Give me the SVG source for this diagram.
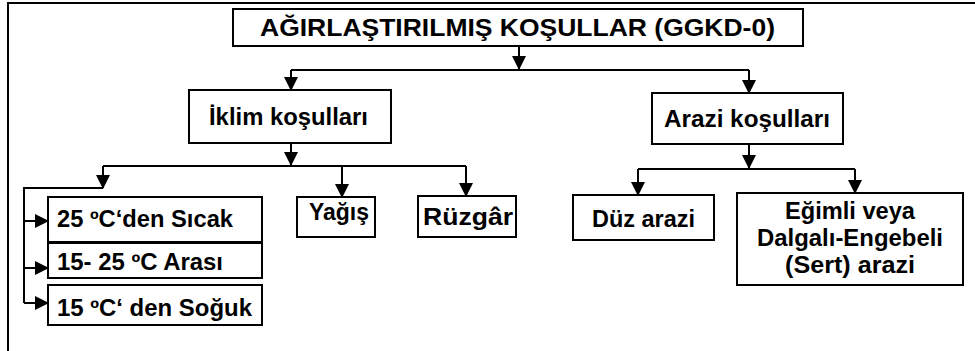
<svg xmlns="http://www.w3.org/2000/svg" width="975" height="351" viewBox="0 0 975 351">
<style>
.box{fill:#fff;stroke:#000;stroke-width:2}
.ln{fill:none;stroke:#000;stroke-width:2}
.t{font-family:"Liberation Sans",Arial,sans-serif;font-weight:bold;fill:#000;font-size:23px}
</style>
<defs>
<marker id="ah" viewBox="0 0 14 14" refX="13" refY="7" markerWidth="14" markerHeight="14" markerUnits="userSpaceOnUse" orient="auto">
<path d="M0,0 L14,7 L0,14 Z" fill="#000"/>
</marker>
</defs>
<rect width="975" height="351" fill="#fff"/>
<path class="ln" d="M8,351 V3 H975" stroke-width="2.5"/>
<g id="connectors">
<path class="ln" d="M519,46 V69" marker-end="url(#ah)"/>
<path class="ln" d="M291,70 H749"/>
<path class="ln" d="M291,70 V90" marker-end="url(#ah)"/>
<path class="ln" d="M749,70 V93" marker-end="url(#ah)"/>
<path class="ln" d="M291,143 V165" marker-end="url(#ah)"/>
<path class="ln" d="M103,166 H466"/>
<path class="ln" d="M103,166 V188" marker-end="url(#ah)"/>
<path class="ln" d="M103,188 H24 V303"/>
<path class="ln" d="M24,221 H48" marker-end="url(#ah)"/>
<path class="ln" d="M24,268 H48" marker-end="url(#ah)"/>
<path class="ln" d="M24,303 H48" marker-end="url(#ah)"/>
<path class="ln" d="M342,166 V197" marker-end="url(#ah)"/>
<path class="ln" d="M466,166 V196" marker-end="url(#ah)"/>
<path class="ln" d="M749,144 V168" marker-end="url(#ah)"/>
<path class="ln" d="M638,169 H855"/>
<path class="ln" d="M638,169 V195" marker-end="url(#ah)"/>
<path class="ln" d="M855,169 V193" marker-end="url(#ah)"/>
</g>
<g id="title">
<rect class="box" x="233" y="9" width="570" height="37"/>
<text class="t" x="260" y="36" font-size="26.5" textLength="515" lengthAdjust="spacingAndGlyphs">AĞIRLAŞTIRILMIŞ KOŞULLAR (GGKD-0)</text>
</g>
<g id="iklim">
<rect class="box" x="189" y="90" width="202" height="53"/>
<text class="t" x="209" y="125" textLength="159" lengthAdjust="spacingAndGlyphs">İklim koşulları</text>
</g>
<g id="arazi">
<rect class="box" x="652" y="93" width="191" height="51"/>
<text class="t" x="664" y="127" textLength="166" lengthAdjust="spacingAndGlyphs">Arazi koşulları</text>
</g>
<g id="sicak">
<rect class="box" x="48" y="197" width="214" height="45"/>
<text class="t" x="57" y="227" textLength="176" lengthAdjust="spacingAndGlyphs">25 ºC‘den Sıcak</text>
</g>
<g id="arasi">
<rect class="box" x="48" y="243" width="214" height="35"/>
<text class="t" x="57" y="270" textLength="166" lengthAdjust="spacingAndGlyphs">15- 25 ºC Arası</text>
</g>
<g id="soguk">
<rect class="box" x="48" y="285" width="214" height="40"/>
<text class="t" x="57" y="316" textLength="195" lengthAdjust="spacingAndGlyphs">15 ºC‘ den Soğuk</text>
</g>
<g id="yagis">
<rect class="box" x="297" y="197" width="78" height="40"/>
<text class="t" x="309" y="220" textLength="60" lengthAdjust="spacingAndGlyphs">Yağış</text>
</g>
<g id="ruzgar">
<rect class="box" x="418" y="196" width="98" height="41"/>
<text class="t" x="423" y="225" textLength="90" lengthAdjust="spacingAndGlyphs">Rüzgâr</text>
</g>
<g id="duz">
<rect class="box" x="573" y="195" width="141" height="45"/>
<text class="t" x="592" y="227" textLength="103" lengthAdjust="spacingAndGlyphs">Düz arazi</text>
</g>
<g id="egimli">
<rect class="box" x="737" y="193" width="226" height="92"/>
<text class="t" x="785" y="219" textLength="130" lengthAdjust="spacingAndGlyphs">Eğimli veya</text>
<text class="t" x="757" y="246" textLength="186" lengthAdjust="spacingAndGlyphs">Dalgalı-Engebeli</text>
<text class="t" x="785" y="273" textLength="130" lengthAdjust="spacingAndGlyphs">(Sert) arazi</text>
</g>
</svg>
